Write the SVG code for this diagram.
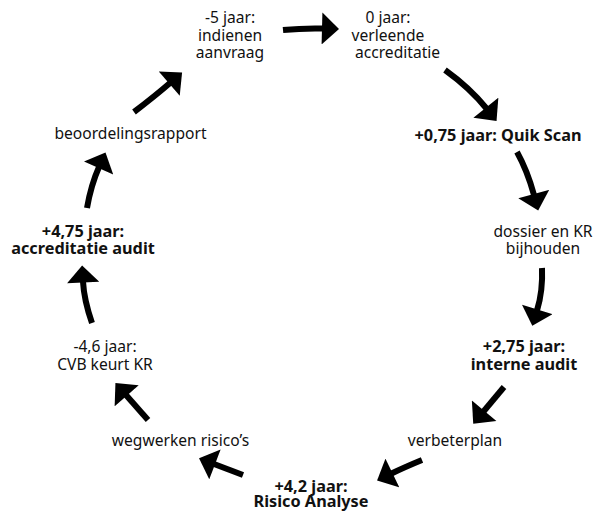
<svg xmlns="http://www.w3.org/2000/svg" width="598" height="512" viewBox="0 0 598 512">
<style>
text{font-family:"Noto Sans","Open Sans","Liberation Sans",sans-serif;font-size:15.6px;fill:#111;text-anchor:middle}
.b{font-weight:bold;font-size:16.3px}
.c path{fill:none;stroke:#000;stroke-width:6;marker-end:url(#ah)}
</style>
<defs>
<marker id="ah" markerUnits="userSpaceOnUse" markerWidth="18" markerHeight="32" refX="1" refY="16" orient="auto" viewBox="0 0 17 32"><path d="M0,0 L17,16 L0,32 Z" fill="#000"/></marker>
</defs>
<rect width="598" height="512" fill="#fff"/>
<g class="c" id="connectors">
<path d="M283,30 Q303,28 323,28.5"/>
<path d="M445,70 Q470,88 486.5,108.5"/>
<path d="M517,152 Q527.5,171 534,195"/>
<path d="M542,268 Q543,291 537,310.5"/>
<path d="M504,387 L483.5,411.5"/>
<path d="M422,460 Q405,467 391.5,473.5"/>
<path d="M243,475 L214,464"/>
<path d="M148,420 L126,395"/>
<path d="M92,323 Q84,300 83,281.5"/>
<path d="M87,208 Q91,185 99,167"/>
<path d="M134,112 Q155,96 170,83"/>
</g>
<g id="n1"><text x="230" y="23">-5 jaar:</text><text x="230" y="40.7">indienen</text><text x="230" y="58.4">aanvraag</text></g>
<g id="n2"><text x="388" y="23">0 jaar:</text><text x="388" y="40.7">verleende</text><text x="355" y="58.4" style="text-anchor:start">accreditatie</text></g>
<g id="n3"><text class="b" x="498" y="141">+0,75 jaar: Quik Scan</text></g>
<g id="n4"><text x="543" y="237">dossier en KR</text><text x="543" y="254">bijhouden</text></g>
<g id="n5"><text class="b" x="524" y="352">+2,75 jaar:</text><text class="b" x="524" y="369.5">interne audit</text></g>
<g id="n6"><text x="455" y="446">verbeterplan</text></g>
<g id="n7"><text class="b" x="311" y="492">+4,2 jaar:</text><text class="b" x="311" y="507">Risico Analyse</text></g>
<g id="n8"><text x="180.5" y="446">wegwerken risico’s</text></g>
<g id="n9"><text x="105" y="352">-4,6 jaar:</text><text x="105" y="369.5">CVB keurt KR</text></g>
<g id="n10"><text class="b" x="83" y="237">+4,75 jaar:</text><text class="b" x="83" y="254">accreditatie audit</text></g>
<g id="n11"><text x="130.5" y="139">beoordelingsrapport</text></g>
</svg>
